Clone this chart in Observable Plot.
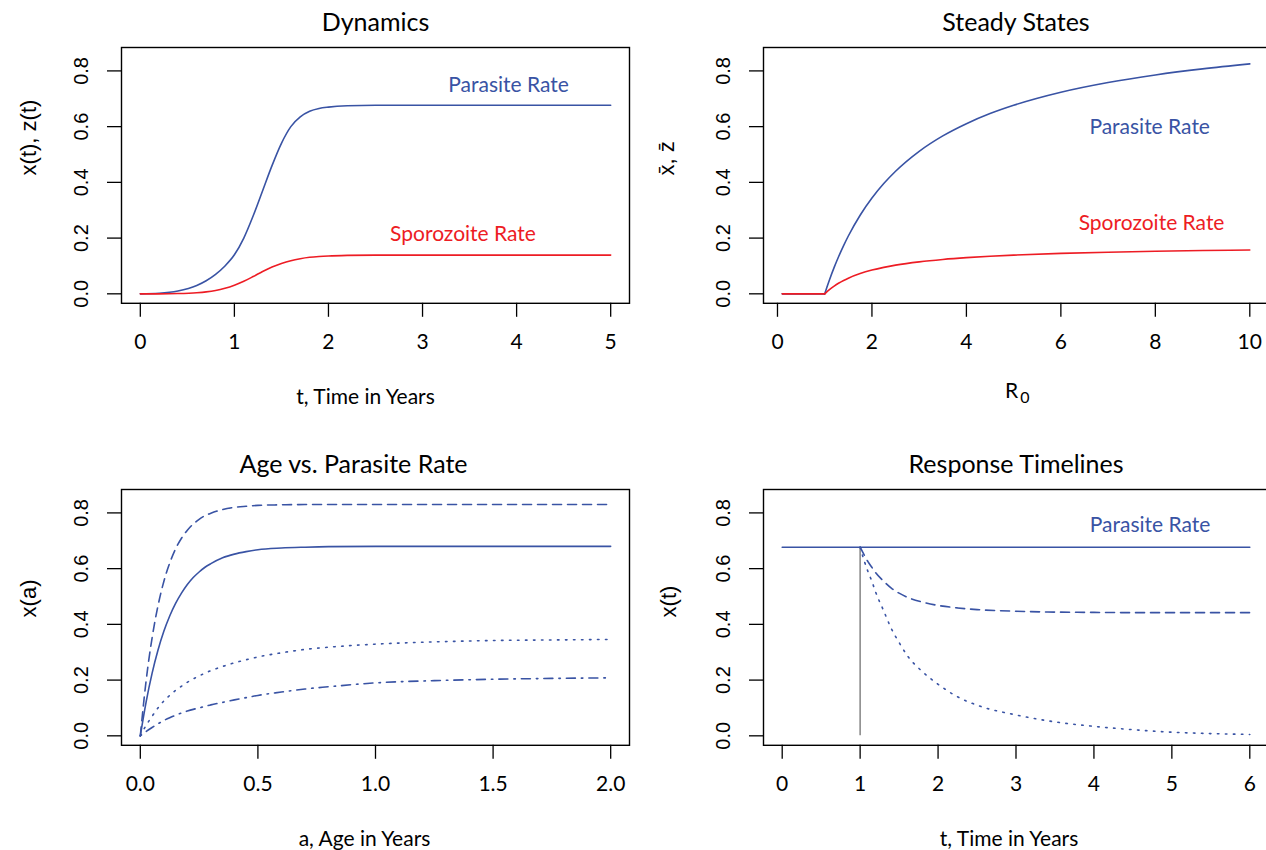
<!DOCTYPE html>
<html><head><meta charset="utf-8">
<script src="https://cdn.jsdelivr.net/npm/d3@7"></script>
<script src="https://cdn.jsdelivr.net/npm/@observablehq/plot@0.6"></script>
<style>
html,body{margin:0;padding:0;background:#fff;overflow:hidden;}
#root{position:relative;width:1266px;height:850px;overflow:hidden;background:#fff;}
#root svg{position:absolute;overflow:visible;background:transparent;}
</style></head><body><div id="root"></div>
<script>
// ---------- data ----------
const yTicks = [0, 0.2, 0.4, 0.6, 0.8];
const yTickLabels = ["0.0", "0.2", "0.4", "0.6", "0.8"];

// Dynamics
const dynT = [0,0.2,0.4,0.6,0.7,0.8,0.9,1.0,1.1,1.2,1.3,1.4,1.5,1.6,1.7,1.8,1.9,2.0,2.2,2.5,3,3.5,4,4.5,5];
const dynParasite = [0,0.002,0.01,0.03,0.047,0.07,0.1,0.14,0.2,0.28,0.37,0.46,0.54,0.6,0.635,0.655,0.665,0.67,0.675,0.677,0.677,0.677,0.677,0.677,0.677];
const dynSporozoite = [0,0,0.001,0.004,0.007,0.012,0.02,0.031,0.045,0.062,0.08,0.096,0.109,0.119,0.126,0.131,0.134,0.136,0.138,0.139,0.139,0.139,0.139,0.139,0.139];
const dynXTicks = [0,1,2,3,4,5];
const dynXTickLabels = ["0","1","2","3","4","5"];
const dynLabels = [{x: 3.915, y: 0.75, text: "Parasite Rate", series: "parasite"}, {x: 3.43, y: 0.214, text: "Sporozoite Rate", series: "sporozoite"}];

// Steady states
const ssR0 = [0.1,0.5,1.0,1.05,1.1,1.2,1.3,1.4,1.5,1.75,2,2.25,2.5,3,3.5,4,4.5,5,6,7,8,9,10];
const ssParasite = [0,0,0,0.0255,0.0498,0.0948,0.1357,0.173,0.2075,0.282,0.3436,0.3956,0.4399,0.5115,0.5669,0.6107,0.647,0.6768,0.7236,0.7585,0.7856,0.8073,0.8251];
const ssSporozoite = [0,0,0,0.0079,0.0151,0.0278,0.0387,0.048,0.0562,0.0727,0.0852,0.095,0.1029,0.1148,0.1234,0.1299,0.1349,0.139,0.1451,0.1494,0.1527,0.1553,0.1574];
const ssXTicks = [0,2,4,6,8,10];
const ssXTickLabels = ["0","2","4","6","8","10"];
const ssLabels = [{x: 7.88, y: 0.596, text: "Parasite Rate", series: "parasite"}, {x: 7.92, y: 0.253, text: "Sporozoite Rate", series: "sporozoite"}];

// Age vs parasite rate
const ageA = [0,0.025,0.05,0.075,0.1,0.125,0.15,0.175,0.2,0.225,0.25,0.275,0.3,0.35,0.4,0.45,0.5,0.6,0.7,0.8,1.0,1.25,1.5,1.75,2.0];
const ageDashed = [0,0.2,0.351,0.466,0.554,0.62,0.671,0.709,0.738,0.76,0.777,0.79,0.799,0.812,0.82,0.824,0.827,0.829,0.83,0.83,0.83,0.83,0.83,0.83,0.83];
const ageSolid = [0,0.123,0.224,0.307,0.375,0.43,0.475,0.512,0.543,0.568,0.588,0.605,0.618,0.639,0.652,0.661,0.668,0.674,0.677,0.679,0.68,0.68,0.68,0.68,0.68];
const ageDotted = [0,0.038,0.07,0.1,0.125,0.145,0.163,0.178,0.192,0.204,0.215,0.225,0.234,0.249,0.262,0.273,0.283,0.298,0.31,0.318,0.329,0.337,0.342,0.344,0.346];
const ageDashDot = [0,0.016,0.03,0.043,0.055,0.065,0.074,0.082,0.089,0.095,0.1,0.106,0.111,0.12,0.129,0.137,0.145,0.157,0.168,0.176,0.19,0.198,0.203,0.206,0.208];
const ageXTicks = [0,0.5,1,1.5,2];
const ageXTickLabels = ["0.0","0.5","1.0","1.5","2.0"];

// Response timelines
const baseT = [0, 6];
const baseRate = [0.677, 0.677];
const interventionT = [1];
const interventionTop = [0.677];
const respT = [1,1.05,1.1,1.15,1.2,1.3,1.4,1.5,1.6,1.8,2.0,2.25,2.5,3,3.5,4,4.5,5,5.5,6];
const respDashed = [0.677,0.65,0.625,0.605,0.585,0.555,0.53,0.512,0.498,0.48,0.468,0.459,0.453,0.447,0.444,0.443,0.442,0.442,0.442,0.442];
const respDotted = [0.677,0.63,0.59,0.555,0.515,0.45,0.385,0.335,0.29,0.23,0.185,0.14,0.11,0.075,0.05,0.034,0.022,0.013,0.008,0.005];
const respXTicks = [0,1,2,3,4,5,6];
const respXTickLabels = ["0","1","2","3","4","5","6"];
const respLabels = [{x: 4.72, y: 0.754, text: "Parasite Rate", series: "parasite"}];

// ---------- style ----------
const BLUE = "#3953A4", RED = "#ED1C24", GRAY = "#8C8C8C";
const seriesColor = {parasite: BLUE, sporozoite: RED};
const SANS = "Lato, 'Open Sans', sans-serif";
const ARIAL = "'Liberation Sans', Arial, sans-serif";
const Y_DOMAIN = [-0.034, 0.884];
const H = 408, MT = 47, MB = 105.2;

function zip(xs, ys) { return xs.map((x, i) => ({x, y: ys[i]})); }

function panel({left, top, width, marginLeft, marginRight, xDomain, xTicks, xTickLabels, title, titleDx = 0,
                xLabel, xLabelDx = 0, yLabel, yLabelDx, marks}) {
  const svg = Plot.plot({
    width, height: H, marginLeft, marginRight, marginTop: MT, marginBottom: MB,
    style: {fontFamily: SANS, fontSize: "21px", color: "black", background: "transparent", overflow: "visible"},
    x: {domain: xDomain},
    y: {domain: Y_DOMAIN},
    marks: [
      ...marks,
      Plot.frame({stroke: "black", strokeWidth: 1.4}),
      Plot.axisX({ticks: xTicks, tickSize: 14, tickPadding: 17, strokeWidth: 1.3, label: null,
        tickFormat: d => xTickLabels[xTicks.indexOf(d)], fontSize: 21, fontFamily: SANS}),
      Plot.axisY({ticks: yTicks, tickSize: 14, strokeWidth: 1.3, label: null, tickFormat: () => ""}),
      Plot.text(yTicks, {y: d => d, text: d => yTickLabels[yTicks.indexOf(d)], frameAnchor: "left", dx: -39.5,
        rotate: -90, textAnchor: "middle", lineAnchor: "middle", fontFamily: ARIAL, fontSize: 20}),
      Plot.text([title], {text: d => d, frameAnchor: "top", dy: -25, dx: titleDx, lineAnchor: "middle", fontSize: 25, fontFamily: SANS}),
      ...(xLabel ? [Plot.text([xLabel], {text: d => d, frameAnchor: "bottom", dy: 94, dx: xLabelDx, lineAnchor: "middle", fontSize: 21, fontFamily: SANS})] : []),
      Plot.text([yLabel], {text: d => d, frameAnchor: "left", dx: yLabelDx, rotate: -90, lineAnchor: "middle", fontSize: 22, fontFamily: ARIAL})
    ]
  });
  svg.style.left = left + "px";
  svg.style.top = top + "px";
  document.getElementById("root").appendChild(svg);
}

function labelMarks(labels) {
  return Plot.text(labels, {x: "x", y: "y", text: "text", fill: d => seriesColor[d.series], fontSize: 21, fontFamily: SANS, lineAnchor: "middle"});
}

// Panel 1: Dynamics
panel({
  left: 0, top: 0, width: 633, marginLeft: 121, marginRight: 4,
  xDomain: [-0.2, 5.2], xTicks: dynXTicks, xTickLabels: dynXTickLabels,
  title: "Dynamics", xLabel: "t, Time in Years", xLabelDx: -10, yLabel: "x(t), z(t)", yLabelDx: -93,
  marks: [
    Plot.line(zip(dynT, dynParasite), {x: "x", y: "y", stroke: BLUE, strokeWidth: 1.6, curve: "monotone-x"}),
    Plot.line(zip(dynT, dynSporozoite), {x: "x", y: "y", stroke: RED, strokeWidth: 1.6, curve: "monotone-x"}),
    labelMarks(dynLabels)
  ]
});

// Panel 2: Steady States
const ssP = zip(ssR0, ssParasite), ssS = zip(ssR0, ssSporozoite);
panel({
  left: 633, top: 0, width: 640, marginLeft: 130, marginRight: 5,
  xDomain: [-0.296, 10.396], xTicks: ssXTicks, xTickLabels: ssXTickLabels,
  title: "Steady States", xLabel: null, yLabel: "x\u0304, z\u0304", yLabelDx: -97,
  marks: [
    Plot.line(ssP.filter(d => d.x <= 1), {x: "x", y: "y", stroke: BLUE, strokeWidth: 1.6}),
    Plot.line(ssP.filter(d => d.x >= 1), {x: "x", y: "y", stroke: BLUE, strokeWidth: 1.6, curve: "monotone-x"}),
    Plot.line(ssS.filter(d => d.x <= 1), {x: "x", y: "y", stroke: RED, strokeWidth: 1.6}),
    Plot.line(ssS.filter(d => d.x >= 1), {x: "x", y: "y", stroke: RED, strokeWidth: 1.6, curve: "monotone-x"}),
    labelMarks(ssLabels),
    Plot.text(["R"], {text: d => d, frameAnchor: "bottom", dy: 88, dx: -4.5, lineAnchor: "middle", fontSize: 21, fontFamily: SANS}),
    Plot.text(["0"], {text: d => d, frameAnchor: "bottom", dy: 94.5, dx: 9, lineAnchor: "middle", fontSize: 16, fontFamily: SANS})
  ]
});

// Panel 3: Age vs. Parasite Rate
panel({
  left: 0, top: 442, width: 633, marginLeft: 121, marginRight: 4,
  xDomain: [-0.08, 2.08], xTicks: ageXTicks, xTickLabels: ageXTickLabels,
  title: "Age vs. Parasite Rate", titleDx: -22, xLabel: "a, Age in Years", xLabelDx: -11, yLabel: "x(a)", yLabelDx: -93,
  marks: [
    Plot.line(zip(ageA, ageDashed), {x: "x", y: "y", stroke: BLUE, strokeWidth: 1.6, curve: "monotone-x", strokeDasharray: "9,6"}),
    Plot.line(zip(ageA, ageSolid), {x: "x", y: "y", stroke: BLUE, strokeWidth: 1.6, curve: "monotone-x"}),
    Plot.line(zip(ageA, ageDotted), {x: "x", y: "y", stroke: BLUE, strokeWidth: 1.6, curve: "monotone-x", strokeDasharray: "1.5,6.5"}),
    Plot.line(zip(ageA, ageDashDot), {x: "x", y: "y", stroke: BLUE, strokeWidth: 1.6, curve: "monotone-x", strokeDasharray: "1.5,6,9,6"})
  ]
});

// Panel 4: Response Timelines
panel({
  left: 633, top: 442, width: 640, marginLeft: 130, marginRight: 5,
  xDomain: [-0.24, 6.24], xTicks: respXTicks, xTickLabels: respXTickLabels,
  title: "Response Timelines", xLabel: "t, Time in Years", xLabelDx: -7, yLabel: "x(t)", yLabelDx: -95,
  marks: [
    Plot.ruleX(interventionT, {x: d => d, y1: 0, y2: (d, i) => interventionTop[i], stroke: GRAY, strokeWidth: 1.6}),
    Plot.line(zip(baseT, baseRate), {x: "x", y: "y", stroke: BLUE, strokeWidth: 1.6}),
    Plot.line(zip(respT, respDashed), {x: "x", y: "y", stroke: BLUE, strokeWidth: 1.6, curve: "monotone-x", strokeDasharray: "9,6"}),
    Plot.line(zip(respT, respDotted), {x: "x", y: "y", stroke: BLUE, strokeWidth: 1.6, curve: "monotone-x", strokeDasharray: "1.5,6.5"}),
    labelMarks(respLabels)
  ]
});
</script></body></html>
